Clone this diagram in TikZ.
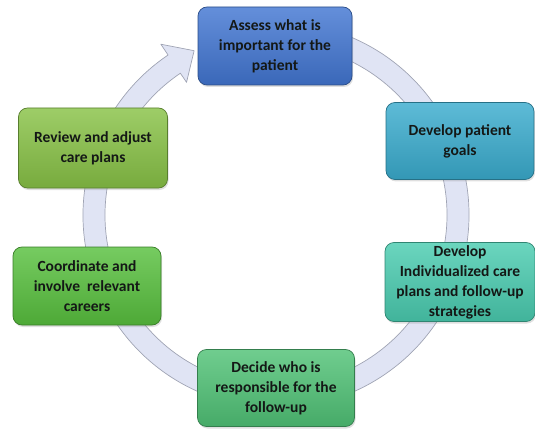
\documentclass[tikz,border=0pt]{standalone}
\usepackage{fontspec}
\setmainfont{Carlito}
\usetikzlibrary{shadows,calc}

\definecolor{boxblue}{RGB}{66,118,210}
\definecolor{boxcyan}{RGB}{58,172,206}
\definecolor{boxteal}{RGB}{74,204,176}
\definecolor{boxmint}{RGB}{80,194,118}
\definecolor{boxgreen}{RGB}{88,192,62}
\definecolor{boxlime}{RGB}{136,194,70}
\definecolor{ringfill}{RGB}{224,228,244}
\definecolor{ringedge}{RGB}{160,164,180}
\definecolor{labeltext}{RGB}{20,24,22}

\tikzset{
  stepbox/.style={
    rounded corners=9pt,
    draw=#1!65!black, line width=0.7pt,
    top color=#1!82!white, bottom color=#1!88!black,
    drop shadow={opacity=0.25, shadow xshift=1pt, shadow yshift=-2pt},
    text=labeltext, align=center, inner sep=0pt,
    font=\bfseries\fontsize{15.5}{20}\selectfont
  },
  ring/.style={fill=ringfill, draw=ringedge, line width=0.7pt, line join=round}
}

\begin{document}
\begin{tikzpicture}[x=1pt,y=1pt]
\useasboundingbox (0,0) rectangle (535,429);

% circular arrow running clockwise behind the steps
\begin{scope}[shift={(276,214)}]
  \path[ring]
    (80:193) arc[start angle=80, end angle=-236, radius=193]
    -- (124:206)
    -- ($(124:182)+(34:24)$)
    -- (124:160)
    -- (124:171) arc[start angle=124, end angle=440, radius=171]
    -- cycle;
\end{scope}

% process steps
\node[stepbox=boxblue,  minimum width=154pt, minimum height=78pt] (assess)
  at (275,383) {Assess what is\\important for the\\patient};
\node[stepbox=boxcyan,  minimum width=148pt, minimum height=77pt] (goals)
  at (460,288) {Develop patient\\goals};
\node[stepbox=boxteal,  minimum width=150pt, minimum height=79pt] (plans)
  at (460,147) {Develop\\Individualized care\\plans and follow-up\\strategies};
\node[stepbox=boxmint,  minimum width=157pt, minimum height=77pt] (decide)
  at (276,41) {Decide who is\\responsible for the\\follow-up};
\node[stepbox=boxgreen, minimum width=148pt, minimum height=78pt] (coord)
  at (87,143) {Coordinate and\\involve~ relevant\\careers};
\node[stepbox=boxlime,  minimum width=149pt, minimum height=80pt] (review)
  at (93,281) {Review and adjust\\care plans};
\end{tikzpicture}
\end{document}
